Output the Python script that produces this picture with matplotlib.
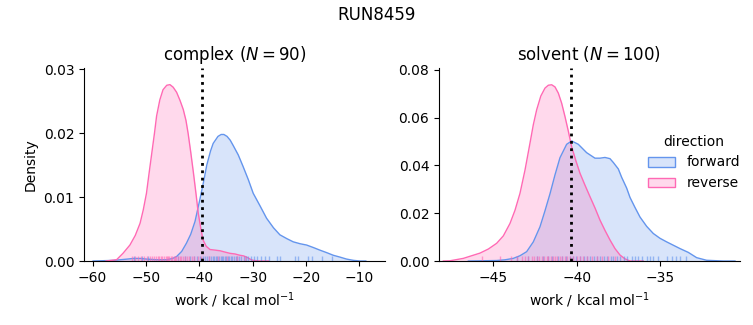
import numpy as np
import matplotlib.pyplot as plt
from matplotlib.patches import Patch

FWD_COLOR = "#6495ED"
REV_COLOR = "#FF69B4"

# ---- complex leg: density curves ----
complex_fwd_x = [-59.9, -56.0, -53.5, -52.4, -51.0, -49.9, -48.0, -46.1, -45.0, -44.25, -43.3, -42.4,
                 -41.6, -40.8, -39.9, -39.2, -38.6, -37.9, -37.4, -36.5, -35.9, -35.4, -34.8, -34.2,
                 -33.6, -32.7, -31.8, -30.8, -29.9, -28.6, -27.4, -26.1, -24.9, -23.6, -22.4, -21.1,
                 -19.9, -18.6, -17.4, -16.1, -14.9, -13.6, -12.4, -11.1, -9.9, -8.8]
complex_fwd_y = [0.0, 0.0001, 0.0003, 0.0004, 0.0004, 0.0003, 0.0002, 0.0002, 0.0004, 0.0007, 0.0015, 0.0028,
                 0.0042, 0.0062, 0.0096, 0.0124, 0.0150, 0.0172, 0.0184, 0.0195, 0.0198, 0.0198, 0.0195, 0.0189,
                 0.0180, 0.0166, 0.0148, 0.0127, 0.0106, 0.0086, 0.0067, 0.0052, 0.0041, 0.0035, 0.0030, 0.0027,
                 0.0025, 0.0021, 0.0017, 0.0013, 0.0009, 0.0006, 0.0003, 0.0001, 0.0, 0.0]

complex_rev_x = [-57.5, -55.5, -54.3, -53.0, -52.0, -51.1, -50.5, -49.9, -49.4, -48.9, -48.4, -48.0,
                 -47.4, -46.8, -46.1, -45.5, -44.9, -44.25, -43.6, -43.0, -42.5, -42.1, -41.6, -41.1,
                 -40.6, -40.2, -39.7, -39.3, -38.7, -38.0, -37.0, -36.1, -35.2, -34.25, -33.3, -32.4,
                 -31.7, -31.1, -30.5, -29.9, -28.6, -27.0]
complex_rev_y = [0.0, 0.0002, 0.0012, 0.0025, 0.0040, 0.0059, 0.0080, 0.0106, 0.0138, 0.0169, 0.0200, 0.0227,
                 0.0252, 0.0268, 0.0275, 0.0276, 0.0272, 0.0264, 0.0251, 0.0237, 0.0220, 0.0200, 0.0170, 0.0138,
                 0.0104, 0.0075, 0.0050, 0.0033, 0.0023, 0.0018, 0.0017, 0.0016, 0.0014, 0.0012, 0.0011, 0.0009,
                 0.0008, 0.0006, 0.0003, 0.0001, 0.0, 0.0]

# ---- solvent leg ----
solvent_fwd_x = [-46.5, -44.8, -44.3, -43.8, -43.4, -43.0, -42.6, -42.2, -41.9, -41.6, -41.3, -41.0,
                 -40.6, -40.3, -39.9, -39.4, -38.9, -38.6, -38.3, -38.0, -37.8, -37.5, -37.3, -37.0,
                 -36.8, -36.5, -36.2, -35.8, -35.4, -35.0, -34.6, -34.2, -33.8, -33.3, -32.8, -32.2,
                 -31.2, -30.5]
solvent_fwd_y = [0.0, 0.0002, 0.0005, 0.0011, 0.0022, 0.0039, 0.0080, 0.0143, 0.0210, 0.0281, 0.0360, 0.0432,
                 0.0488, 0.0502, 0.0488, 0.0453, 0.0430, 0.0430, 0.0433, 0.0428, 0.0412, 0.0385, 0.0350, 0.0305,
                 0.0266, 0.0224, 0.0184, 0.0145, 0.0115, 0.0095, 0.0080, 0.0066, 0.0052, 0.0036, 0.0014, 0.0003,
                 0.0, 0.0]

solvent_rev_x = [-48.0, -47.6, -46.8, -45.8, -45.3, -44.8, -44.4, -44.0, -43.7, -43.4, -43.1, -42.8,
                 -42.6, -42.4, -42.15, -41.9, -41.7, -41.5, -41.3, -41.1, -40.9, -40.7, -40.5, -40.3,
                 -40.05, -39.8, -39.5, -39.2, -38.9, -38.6, -38.3, -38.0, -37.7, -37.4, -37.1, -36.8, -36.0]
solvent_rev_y = [0.0, 0.0001, 0.0011, 0.0033, 0.0050, 0.0074, 0.0105, 0.0157, 0.0212, 0.0283, 0.0380, 0.0493,
                 0.0570, 0.0632, 0.0690, 0.0723, 0.0735, 0.0737, 0.0728, 0.0702, 0.0660, 0.0604, 0.0543, 0.0478,
                 0.0420, 0.0367, 0.0317, 0.0269, 0.0222, 0.0171, 0.0128, 0.0088, 0.0052, 0.0025, 0.0009, 0.0, 0.0]

# ---- rug positions (work values, kcal/mol) ----
complex_fwd_rug = [-52.3, -50.8, -49.6, -44.0, -42.6, -41.8, -41.0, -40.4, -39.8, -39.3, -38.9, -38.5,
                   -38.1, -37.8, -37.5, -37.2, -36.9, -36.6, -36.3, -36.0, -35.8, -35.5, -35.2, -35.0,
                   -34.7, -34.4, -34.1, -33.8, -33.5, -33.2, -32.9, -32.5, -32.1, -31.7, -31.2, -30.8,
                   -30.3, -29.8, -29.2, -28.5, -27.7, -27.0, -25.5, -24.9, -22.1, -21.5, -19.6, -18.9,
                   -17.1, -15.1]
complex_rev_rug = [-52.6, -52.0, -51.4, -50.9, -50.3, -49.8, -49.3, -48.9, -48.5, -48.1, -47.8, -47.5,
                   -47.2, -46.9, -46.6, -46.3, -46.1, -45.8, -45.6, -45.3, -45.1, -44.8, -44.6, -44.3,
                   -44.0, -43.7, -43.4, -43.1, -42.7, -42.3, -41.9, -41.4, -40.9, -40.3, -39.6, -38.2,
                   -36.5, -34.8, -33.0, -31.5]
solvent_fwd_rug = [-43.6, -42.9, -42.4, -42.0, -41.7, -41.45, -41.1, -40.9, -40.65, -40.4, -40.2, -40.05,
                   -39.8, -39.55, -39.4, -39.2, -38.95, -38.8, -38.6, -38.35, -38.2, -37.95, -37.8, -37.55,
                   -37.4, -37.15, -36.95, -36.7, -36.5, -36.3, -36.1, -35.8, -35.6, -35.4, -35.1, -34.6,
                   -34.3, -34.05, -33.8, -33.45]
solvent_rev_rug = [-45.7, -44.6, -43.96, -43.6, -43.3, -43.1, -42.9, -42.7, -42.55, -42.4, -42.25, -42.1,
                   -41.95, -41.8, -41.7, -41.55, -41.4, -41.3, -41.15, -41.0, -40.85, -40.7, -40.55, -40.4,
                   -40.2, -40.0, -39.8, -39.6, -39.35, -39.1, -38.8, -38.5, -38.1, -37.7]

complex_dg = -39.55
solvent_dg = -40.32

fig = plt.figure(figsize=(7.53, 3.25), dpi=100)
ax1 = fig.add_axes([0.1116, 0.1969, 0.3997, 0.5938])
ax2 = fig.add_axes([0.583, 0.1969, 0.3997, 0.5938])

panels = [
    (ax1, "complex ($N = 90$)", complex_fwd_x, complex_fwd_y, complex_rev_x, complex_rev_y,
     complex_fwd_rug, complex_rev_rug, complex_dg),
    (ax2, "solvent ($N = 100$)", solvent_fwd_x, solvent_fwd_y, solvent_rev_x, solvent_rev_y,
     solvent_fwd_rug, solvent_rev_rug, solvent_dg),
]

for ax, title, fx, fy, rx, ry, frug, rrug, dg in panels:
    for xs, ys, c in [(fx, fy, FWD_COLOR), (rx, ry, REV_COLOR)]:
        ax.fill_between(xs, ys, 0, color=c, alpha=0.25, lw=0)
        ax.plot(xs, ys, color=c, lw=1)
    # rug
    for vals, c in [(frug, FWD_COLOR), (rrug, REV_COLOR)]:
        ax.vlines(vals, 0, 0.025, color=c, lw=1, alpha=0.6, transform=ax.get_xaxis_transform())
    ax.axvline(dg, color="black", ls=":", lw=2)
    ax.set_title(title, fontsize=12)
    ax.set_xlabel("work / kcal mol$^{-1}$")
    ax.spines["top"].set_visible(False)
    ax.spines["right"].set_visible(False)

ax1.set_xlim(-61.6, -5.2)
ax1.set_ylim(0, 0.0302)
ax1.set_xticks([-60, -50, -40, -30, -20, -10])
ax1.set_yticks([0.0, 0.01, 0.02, 0.03])
ax1.set_ylabel("Density")

ax2.set_xlim(-48.26, -30.2)
ax2.set_ylim(0, 0.0807)
ax2.set_xticks([-45, -40, -35])
ax2.set_yticks([0.0, 0.02, 0.04, 0.06, 0.08])

handles = [Patch(facecolor=(FWD_COLOR, 0.25), edgecolor=FWD_COLOR, label="forward"),
           Patch(facecolor=(REV_COLOR, 0.25), edgecolor=REV_COLOR, label="reverse")]
fig.legend(handles=handles, title="direction", frameon=False, loc="center left",
           bbox_to_anchor=(0.8435, 0.5))

fig.suptitle("RUN8459", fontsize=12)

fig.savefig("out.png", dpi=100)
